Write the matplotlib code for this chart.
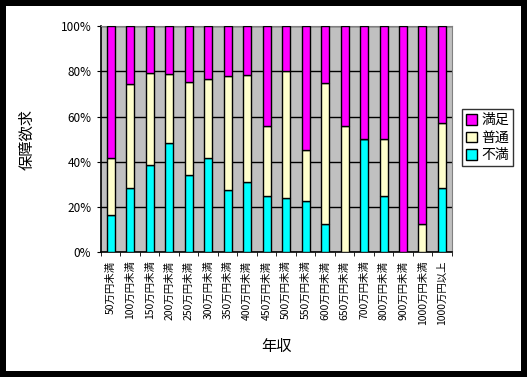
import numpy as np
import matplotlib
matplotlib.use("Agg")
import matplotlib.pyplot as plt
from matplotlib.patches import Rectangle

plt.rcParams['font.family'] = ['Noto Sans CJK JP', 'DejaVu Sans']

categories = ['50万円未満', '100万円未満', '150万円未満', '200万円未満', '250万円未満',
              '300万円未満', '350万円未満', '400万円未満', '450万円未満', '500万円未満',
              '550万円未満', '600万円未満', '650万円未満', '700万円未満', '800万円未満',
              '900万円未満', '1000万円未満', '1000万円以上']
# percent per category
fuman = [16.7, 28.2, 38.5, 48.2, 34.0, 41.5, 27.4, 30.9, 25.0, 24.0,
         22.6, 12.5, 0.0, 50.0, 25.0, 0.0, 0.0, 28.6]
futsuu = [25.0, 46.2, 40.7, 30.4, 41.1, 34.9, 50.4, 47.3, 30.6, 56.0,
          22.5, 62.5, 55.6, 0.0, 25.0, 0.0, 12.5, 28.5]
manzoku = [100 - a - b for a, b in zip(fuman, futsuu)]

W, H = 527, 377
fig = plt.figure(figsize=(W / 100, H / 100), dpi=100)
fig.patch.set_facecolor('black')
fig.add_artist(Rectangle((6 / W, 6 / H), 1 - 12 / W, 1 - 12 / H,
                         transform=fig.transFigure, facecolor='white',
                         edgecolor='none', zorder=-10))

ax = fig.add_axes([101 / W, (H - 252.3) / H, 350.7 / W, 226.3 / H])
ax.set_facecolor('#c0c0c0')

x = np.arange(len(categories))
bw = 0.41
ax.bar(x, fuman, bw, color='#00ffff', edgecolor='black', linewidth=1, label='不満', zorder=3)
ax.bar(x, futsuu, bw, bottom=fuman, color='#ffffcc', edgecolor='black', linewidth=1,
       label='普通', zorder=3)
bottoms = [a + b for a, b in zip(fuman, futsuu)]
ax.bar(x, manzoku, bw, bottom=bottoms, color='#ff00ff', edgecolor='black', linewidth=1,
       label='満足', zorder=3)

ax.set_xlim(-0.5, len(categories) - 0.5)
ax.set_ylim(0, 100)
ax.set_yticks(np.arange(0, 101, 20))
ax.set_yticklabels([f'{v}%' for v in range(0, 101, 20)], fontsize=8.5)
ax.yaxis.grid(True, color='black', linewidth=1, zorder=1)
ax.set_axisbelow(True)

ax.set_xticks(x)
ax.set_xticklabels(categories, rotation=90, fontsize=7.5)
ax.tick_params(axis='x', length=0, pad=6)
ax.set_xticks(np.arange(-0.5, len(categories), 1), minor=True)
ax.tick_params(axis='x', which='minor', length=3, direction='out')
ax.tick_params(axis='y', length=3, direction='out', pad=4)

for s in ['top', 'right']:
    ax.spines[s].set_color('#808080')
for s in ['left', 'bottom']:
    ax.spines[s].set_color('black')
    ax.spines[s].set_linewidth(1.2)

ax.set_xlabel('年収', fontsize=11, labelpad=9)
ax.set_ylabel('保障欲求', fontsize=11, labelpad=18)

handles, labels = ax.get_legend_handles_labels()
leg = fig.legend(handles[::-1], labels[::-1], loc='upper left',
                 bbox_to_anchor=(462 / W, 1 - 109 / H), fontsize=10,
                 frameon=True, fancybox=False, edgecolor='black',
                 handlelength=0.8, handleheight=0.8, handletextpad=0.3,
                 borderpad=0.3, labelspacing=0.25, borderaxespad=0)
leg.get_frame().set_linewidth(1)

fig.savefig('out.png', dpi=100, facecolor=fig.get_facecolor())
